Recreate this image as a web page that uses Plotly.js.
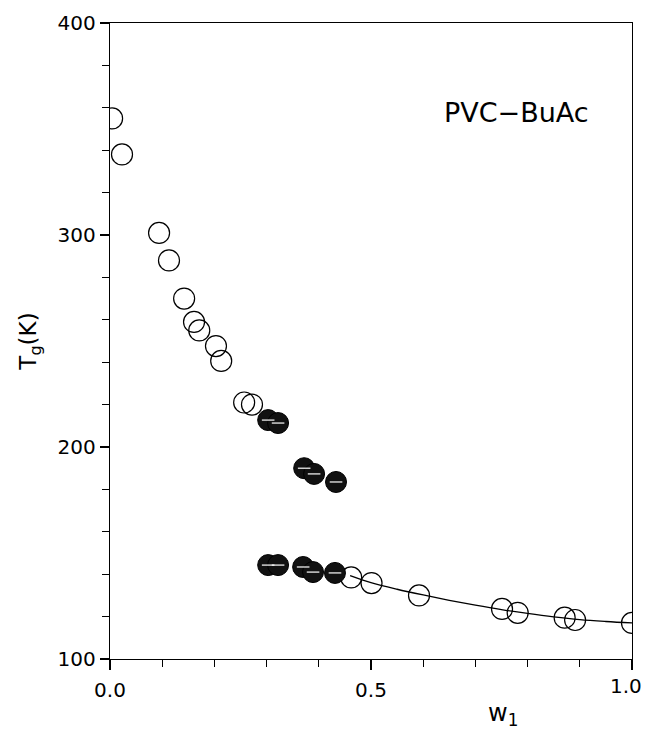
<!DOCTYPE html>
<html>
<head>
<meta charset="utf-8">
<script src="https://cdn.plot.ly/plotly-3.0.1.min.js"></script>
<style>html,body{margin:0;padding:0;background:#fff;}#chart{width:645px;height:733px;}</style>
</head>
<body>
<div id="chart"></div>
<script>
// Open circles: measured Tg
const openW = [0.004, 0.023, 0.094, 0.113, 0.142, 0.161, 0.171, 0.203, 0.213, 0.257, 0.272,
               0.462, 0.501, 0.592, 0.751, 0.781, 0.871, 0.891, 1.0];
const openT = [355, 338, 301, 288, 270, 259, 255, 247.6, 240.6, 221, 220,
               138.5, 135.8, 130, 123.6, 121.8, 119.5, 118.4, 117];
// Filled (hatched) circles: upper transitions
const upperW = [0.303, 0.322, 0.372, 0.391, 0.433];
const upperT = [212.7, 211.3, 190, 187.3, 183.5];
// Filled (hatched) circles: lower transitions
const lowerW = [0.303, 0.322, 0.370, 0.389, 0.431];
const lowerT = [144.3, 144.3, 143.4, 141, 140.6];
// Fitted curve
const curveW = [0.46, 0.50, 0.55, 0.60, 0.65, 0.70, 0.75, 0.80, 0.85, 0.90, 0.95, 1.00];
const curveT = [139.3, 136.0, 132.9, 130.2, 127.7, 125.4, 123.3, 121.5, 119.9, 118.6, 117.7, 117.0];
// Tick labels
const xTickVals = [0, 0.5, 1.0];
const xTickText = ['0.0', '0.5', '1.0'];
const yTickVals = [100, 200, 300, 400];

const filledW = upperW.concat(lowerW);
const filledT = upperT.concat(lowerT);

const traces = [
  {x: curveW, y: curveT, mode: 'lines', line: {color: '#000', width: 1.3, shape: 'spline'}, hoverinfo: 'skip'},
  {x: openW, y: openT, mode: 'markers',
   marker: {symbol: 'circle-open', size: 21, color: '#000', line: {width: 1.2, color: '#000'}}},
  {x: filledW, y: filledT, mode: 'markers',
   marker: {symbol: 'circle', size: 21, color: '#111', line: {width: 1, color: '#000'}}},
  {x: filledW, y: filledT, mode: 'markers',
   marker: {symbol: 'line-ew-open', size: 9, color: '#fff', line: {width: 1.2, color: '#fff'}}}
];

const font = {family: 'DejaVu Sans, Arial, sans-serif', color: '#000'};

// last x tick label sits at the right page edge in the reference; draw it right-anchored
const lastIdx = xTickVals.length - 1;
const shownXText = xTickText.map((t, i) => i === lastIdx ? '' : t);

const layout = {
  width: 645, height: 733,
  margin: {l: 110, r: 13, t: 23, b: 74},
  showlegend: false,
  paper_bgcolor: '#fff', plot_bgcolor: '#fff',
  font: font,
  xaxis: {
    range: [0, 1], autorange: false,
    tickvals: xTickVals, ticktext: shownXText,
    ticks: 'outside', ticklen: 10, tickwidth: 1.2, tickcolor: '#000',
    minor: {dtick: 0.1, ticks: 'outside', ticklen: 7, tickwidth: 1.2, tickcolor: '#000', showgrid: false},
    showline: true, linecolor: '#000', linewidth: 1.3, mirror: true,
    showgrid: false, zeroline: false,
    tickfont: {family: font.family, size: 20, color: '#000'},
    ticklabelstandoff: 3
  },
  yaxis: {
    range: [100, 400], autorange: false,
    tickvals: yTickVals,
    ticks: 'outside', ticklen: 9, tickwidth: 1.2, tickcolor: '#000',
    minor: {dtick: 20, ticks: 'outside', ticklen: 7, tickwidth: 1.2, tickcolor: '#000', showgrid: false},
    showline: true, linecolor: '#000', linewidth: 1.3, mirror: true,
    showgrid: false, zeroline: false,
    tickfont: {family: font.family, size: 20, color: '#000'},
    ticklabeloverflow: 'allow',
    title: {text: 'T<sub>g</sub>(K)', font: {family: font.family, size: 23, color: '#000'}, standoff: 14}
  },
  annotations: [
    {x: 0.778, y: 358, xref: 'x', yref: 'y', text: 'PVC\u2212BuAc', showarrow: false,
     font: {family: font.family, size: 27, color: '#000'}, xanchor: 'center', yanchor: 'middle'},
    {x: 0.752, y: -0.088, xref: 'x', yref: 'paper', text: 'w<sub>1</sub>', showarrow: false,
     font: {family: font.family, size: 24, color: '#000'}, xanchor: 'center', yanchor: 'middle'},
    {x: xTickVals[lastIdx], y: -0.042, xref: 'x', yref: 'paper', text: xTickText[lastIdx], showarrow: false,
     font: {family: font.family, size: 20, color: '#000'}, xanchor: 'right', yanchor: 'middle', xshift: 12}
  ]
};

Plotly.newPlot('chart', traces, layout, {displayModeBar: false, staticPlot: true});
</script>
</body>
</html>
